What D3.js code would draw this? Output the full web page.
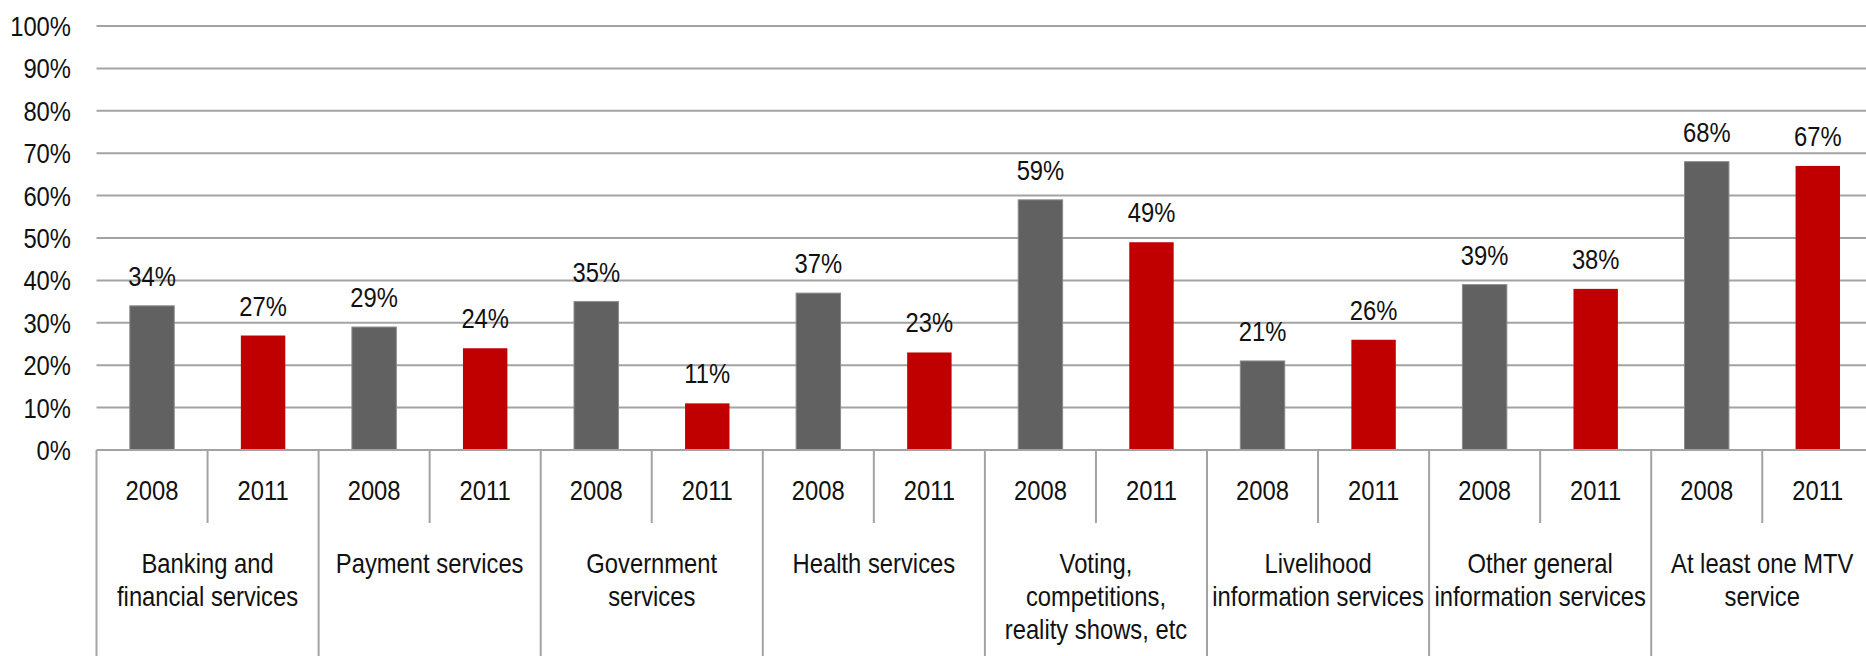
<!DOCTYPE html>
<html>
<head>
<meta charset="utf-8">
<script src="https://cdn.jsdelivr.net/npm/d3@7/dist/d3.min.js"></script>
<style>
  html, body { margin: 0; padding: 0; background: #fff; }
  svg { display: block; }
  text { font-family: "Liberation Sans", Arial, sans-serif; font-size: 28px; fill: #111; }
</style>
</head>
<body>
<svg id="chart" width="1866" height="656"></svg>
<script>
// Service categories, each label split into its display lines
const categories = [
  "Banking and financial services",
  "Payment services",
  "Government services",
  "Health services",
  "Voting, competitions, reality shows, etc",
  "Livelihood information services",
  "Other general information services",
  "At least one MTV service"
];
const categoryLines = [
  ["Banking and", "financial services"],
  ["Payment services"],
  ["Government", "services"],
  ["Health services"],
  ["Voting,", "competitions,", "reality shows, etc"],
  ["Livelihood", "information services"],
  ["Other general", "information services"],
  ["At least one MTV", "service"]
];
const years = ["2008", "2011"];
const values2008 = [34, 29, 35, 37, 59, 21, 39, 68];
const values2011 = [27, 24, 11, 23, 49, 26, 38, 67];
const yTicks = [0, 10, 20, 30, 40, 50, 60, 70, 80, 90, 100];

const colors = { "2008": "#616161", "2011": "#c00000" };

const svg = d3.select("#chart");
const W = 1866, H = 656;
const plotLeft = 96.5, groupWidth = 222.1;
const plotTop = 26, plotBase = 450;
const narrow = 0.85; // horizontal squeeze for a condensed type look

// Position a text at (x, y) with a condensed horizontal scale
function place(sel, fx, fy) {
  return sel.attr("transform", (d, i) => `translate(${fx(d, i)},${fy(d, i)}) scale(${narrow},1)`);
}

const x = d3.scaleBand()
  .domain(categories)
  .range([plotLeft, plotLeft + groupWidth * categories.length])
  .padding(0);

const xInner = d3.scaleBand()
  .domain(years)
  .range([0, x.bandwidth()])
  .padding(0);

const y = d3.scaleLinear().domain([0, 100]).range([plotBase, plotTop]);

const gridColor = "#a3a3a3";

// Horizontal gridlines
svg.append("g")
  .selectAll("line")
  .data(yTicks.filter(d => d > 0))
  .join("line")
  .attr("x1", plotLeft).attr("x2", W)
  .attr("y1", d => y(d)).attr("y2", d => y(d))
  .attr("stroke", gridColor)
  .attr("stroke-width", 2);

// Y tick labels
place(svg.append("g")
  .selectAll("text")
  .data(yTicks)
  .join("text")
  .attr("dy", "0.36em")
  .attr("text-anchor", "end")
  .text(d => d + "%"), () => 71, d => y(d));

// Bars
const rows = categories.map((c, i) => ({
  category: c,
  values: [
    { year: "2008", value: values2008[i] },
    { year: "2011", value: values2011[i] }
  ]
}));

const barFrac = 0.4;
const groups = svg.append("g")
  .selectAll("g")
  .data(rows)
  .join("g")
  .attr("transform", d => `translate(${x(d.category)},0)`);

groups.selectAll("rect")
  .data(d => d.values)
  .join("rect")
  .attr("x", d => xInner(d.year) + xInner.bandwidth() * (1 - barFrac) / 2)
  .attr("width", xInner.bandwidth() * barFrac)
  .attr("y", d => y(d.value))
  .attr("height", d => y(0) - y(d.value))
  .attr("fill", d => colors[d.year])
  .attr("stroke", d => d.year === "2008" ? "#8a8a8a" : "none")
  .attr("stroke-width", 1);

// Value labels
place(groups.selectAll("text.val")
  .data(d => d.values)
  .join("text")
  .attr("class", "val")
  .attr("text-anchor", "middle")
  .text(d => d.value + "%"),
  d => xInner(d.year) + xInner.bandwidth() / 2,
  d => y(d.value) - 20);

// Category axis line
svg.append("line")
  .attr("x1", plotLeft).attr("x2", W)
  .attr("y1", plotBase).attr("y2", plotBase)
  .attr("stroke", gridColor).attr("stroke-width", 2);

// Group boundaries
const bounds = categories.map(c => x(c)).concat([x.range()[1]]);
svg.append("g")
  .selectAll("line")
  .data(bounds)
  .join("line")
  .attr("x1", d => d).attr("x2", d => d)
  .attr("y1", plotBase).attr("y2", H)
  .attr("stroke", gridColor).attr("stroke-width", 2);

// Year dividers inside each group
svg.append("g")
  .selectAll("line")
  .data(categories)
  .join("line")
  .attr("x1", d => x(d) + xInner("2011")).attr("x2", d => x(d) + xInner("2011"))
  .attr("y1", plotBase).attr("y2", 523)
  .attr("stroke", gridColor).attr("stroke-width", 2);

// Year labels
place(groups.selectAll("text.yr")
  .data(years)
  .join("text")
  .attr("class", "yr")
  .attr("text-anchor", "middle")
  .text(d => d),
  d => xInner(d) + xInner.bandwidth() / 2,
  () => 500);

// Category labels
groups.each(function(d, i) {
  const t = d3.select(this).append("text")
    .attr("text-anchor", "middle")
    .attr("transform", `translate(${x.bandwidth() / 2},573) scale(${narrow},1)`);
  t.selectAll("tspan")
    .data(categoryLines[i])
    .join("tspan")
    .attr("x", 0)
    .attr("dy", (l, j) => j === 0 ? 0 : 33)
    .text(l => l);
});
</script>
</body>
</html>
